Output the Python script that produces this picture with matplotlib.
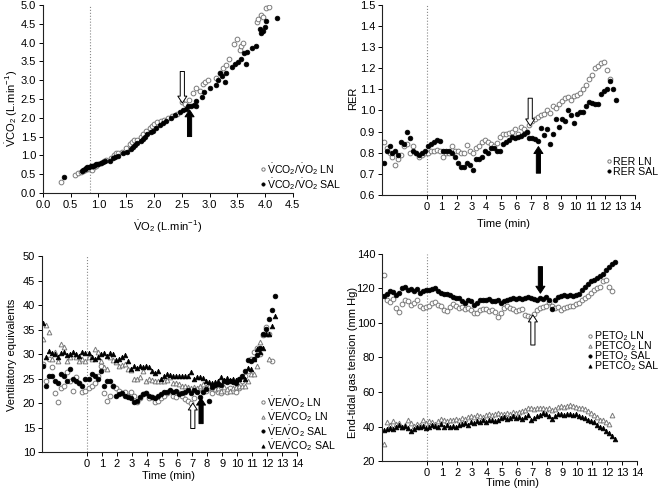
import matplotlib.pyplot as plt
from matplotlib.ticker import FormatStrFormatter

plt.rcParams['font.family'] = ['Liberation Sans', 'DejaVu Sans']
plt.rcParams['font.size'] = 8
plt.rcParams['mathtext.default'] = 'regular'

# time grid (min) shared by the time-course panels
t = [-2.9, -2.7, -2.5, -2.3, -2.1, -1.9, -1.7, -1.5, -1.3, -1.1,
     -0.9, -0.7, -0.5, -0.3, -0.1, 0.1, 0.3, 0.5, 0.7, 0.9,
     1.1, 1.3, 1.5, 1.7, 1.9, 2.1, 2.3, 2.5, 2.7, 2.9,
     3.1, 3.3, 3.5, 3.7, 3.9, 4.1, 4.3, 4.5, 4.7, 4.9,
     5.1, 5.3, 5.5, 5.7, 5.9, 6.1, 6.3, 6.5, 6.7, 6.9,
     7.1, 7.3, 7.5, 7.7, 7.9, 8.1, 8.3, 8.5, 8.7, 8.9,
     9.1, 9.3, 9.5, 9.7, 9.9, 10.1, 10.3, 10.5, 10.7, 10.9,
     11.1, 11.3, 11.5, 11.7, 11.9, 12.1, 12.3, 12.5, 12.7]

# panel A: VCO2 vs VO2
vo2_ln = [0.33, 0.57, 0.63, 0.68, 0.72, 0.76, 0.80, 0.83, 0.86, 0.88,
          0.92, 0.96, 1.00, 1.05, 1.10, 1.14, 1.22, 1.28, 1.32, 1.36,
          1.42, 1.50, 1.56, 1.60, 1.64, 1.70, 1.76, 1.80, 1.86, 1.92,
          1.96, 2.00, 2.06, 2.12, 2.18, 2.25, 2.32, 2.42, 2.51, 2.56,
          2.63, 2.70, 2.76, 2.82, 2.88, 2.92, 2.97, 3.12, 3.18, 3.24,
          3.30, 3.35, 3.44, 3.49, 3.54, 3.57, 3.60, 3.86, 3.88, 3.92,
          3.96, 4.02, 4.07]
vco2_ln = [0.28, 0.49, 0.52, 0.56, 0.58, 0.62, 0.63, 0.64, 0.66, 0.60,
           0.70, 0.73, 0.76, 0.80, 0.84, 0.88, 0.94, 1.02, 1.06, 1.05,
           1.10, 1.20, 1.30, 1.36, 1.40, 1.42, 1.50, 1.56, 1.64, 1.72,
           1.78, 1.84, 1.88, 1.92, 1.94, 2.00, 2.04, 2.10, 2.42, 2.36,
           2.46, 2.65, 2.78, 2.70, 2.90, 2.96, 3.00, 3.05, 3.18, 3.32,
           3.40, 3.56, 3.95, 4.10, 3.80, 3.90, 4.00, 4.55, 4.62, 4.72,
           4.68, 4.92, 4.95]
vo2_sal = [0.38, 0.70, 0.72, 0.75, 0.78, 0.80, 0.83, 0.86, 0.88, 0.90,
           0.93, 0.96, 1.00, 1.04, 1.08, 1.12, 1.20, 1.26, 1.30, 1.36,
           1.45, 1.52, 1.58, 1.62, 1.66, 1.70, 1.76, 1.80, 1.84, 1.88,
           1.94, 1.98, 2.04, 2.10, 2.16, 2.22, 2.30, 2.38, 2.46, 2.52,
           2.58, 2.62, 2.66, 2.72, 2.75, 2.76, 2.86, 2.90, 3.00, 3.12,
           3.15, 3.18, 3.22, 3.28, 3.30, 3.40, 3.46, 3.52, 3.56, 3.62,
           3.66, 3.68, 3.76, 3.84, 3.90, 3.93, 3.96, 3.99, 4.02, 4.22]
vco2_sal = [0.43, 0.58, 0.62, 0.65, 0.67, 0.69, 0.70, 0.71, 0.73, 0.72,
            0.74, 0.76, 0.77, 0.79, 0.82, 0.85, 0.86, 0.92, 0.96, 0.98,
            1.06, 1.10, 1.16, 1.22, 1.28, 1.32, 1.38, 1.44, 1.50, 1.56,
            1.62, 1.66, 1.74, 1.80, 1.86, 1.92, 2.00, 2.06, 2.14, 2.20,
            2.24, 2.30, 2.32, 2.34, 2.30, 2.45, 2.55, 2.68, 2.78, 2.88,
            3.00, 3.20, 3.10, 2.95, 3.18, 3.35, 3.42, 3.48, 3.56, 3.72,
            3.42, 3.76, 3.85, 3.92, 4.35, 4.25, 4.30, 4.40, 4.58, 4.65]

# panel B: RER
rer_ln = [0.85, 0.82, 0.80, 0.78, 0.74, 0.77, 0.79, 0.83, 0.84, 0.80,
          0.83, 0.80, 0.78, 0.79, 0.80, 0.80, 0.81, 0.81, 0.815, 0.81,
          0.78, 0.80, 0.80, 0.83, 0.81, 0.81, 0.80, 0.80, 0.835, 0.81,
          0.80, 0.82, 0.83, 0.85, 0.86, 0.85, 0.84, 0.83, 0.845, 0.875,
          0.89, 0.89, 0.895, 0.90, 0.91, 0.89, 0.92, 0.91, 0.90, 0.93,
          0.95, 0.96, 0.97, 0.98, 0.985, 1.00, 0.99, 1.02, 1.01, 1.03,
          1.045, 1.06, 1.065, 1.05, 1.07, 1.075, 1.085, 1.10, 1.12, 1.15,
          1.17, 1.20, 1.21, 1.225, 1.23, 1.19, 1.15]
rer_sal = [0.75, 0.81, 0.83, 0.80, 0.81, 0.79, 0.85, 0.84, 0.90, 0.87,
           0.81, 0.80, 0.79, 0.80, 0.81, 0.83, 0.84, 0.85, 0.86, 0.855,
           0.81, 0.81, 0.81, 0.80, 0.78, 0.75, 0.73, 0.73, 0.75, 0.74,
           0.72, 0.77, 0.77, 0.78, 0.81, 0.80, 0.82, 0.82, 0.81, 0.81,
           0.84, 0.85, 0.86, 0.875, 0.87, 0.875, 0.88, 0.89, 0.90, 0.87,
           0.87, 0.865, 0.855, 0.915, 0.885, 0.91, 0.84, 0.89, 0.96, 0.92,
           0.96, 0.95, 1.00, 0.98, 0.94, 0.985, 0.995, 0.995, 1.02, 1.04,
           1.035, 1.03, 1.03, 1.08, 1.09, 1.10, 1.14, 1.10, 1.05]

# panel C: ventilatory equivalents
vevo2_ln = [28.0, 24.5, 29.0, 27.3, 22.0, 20.3, 23.0, 23.5, 26.3, 24.5,
            22.5, 25.3, 24.0, 22.3, 22.5, 23.0, 23.5, 24.0, 25.5, 27.5,
            22.0, 20.5, 21.5, 23.5, 23.0, 22.5, 22.0, 22.2, 21.5, 22.3,
            21.5, 20.3, 21.0, 21.8, 22.0, 21.0, 21.3, 20.2, 20.5, 21.0,
            21.5, 22.0, 22.5, 21.5, 21.2, 22.0, 21.5, 20.8, 20.5, 20.0,
            21.0, 22.5, 23.0, 22.5, 22.5, 23.0, 22.0, 22.8, 22.3, 22.0,
            22.5, 22.2, 23.0, 22.5, 22.3, 23.0, 24.5, 25.5, 26.5, 29.0,
            30.5, 31.2, 30.0, 33.8, 35.5, 34.0, 28.5]
vevco2_ln = [33.0, 36.0, 34.5, 29.0, 30.5, 28.5, 32.0, 31.5, 28.5, 29.5,
             30.0, 29.5, 28.5, 29.0, 28.5, 29.5, 29.0, 31.0, 30.5, 28.5,
             27.3, 27.0, 29.5, 28.8, 28.3, 27.5, 27.8, 28.0, 27.0, 26.8,
             25.0, 25.0, 25.3, 26.5, 24.5, 25.0, 24.8, 24.6, 24.5, 24.5,
             24.5, 24.8, 25.3, 24.0, 24.0, 23.8, 23.5, 23.5, 23.3, 23.0,
             23.3, 23.0, 23.5, 23.8, 23.2, 23.5, 23.0, 22.8, 23.0, 22.5,
             23.2, 22.8, 22.5, 23.0, 23.2, 23.5, 23.5, 23.5, 24.5, 26.0,
             26.0, 27.5, 32.5, 34.0, 34.2, 29.0]
vevo2_sal = [27.5, 23.5, 25.5, 25.5, 24.5, 24.0, 26.0, 25.5, 24.5, 27.0,
             25.0, 24.5, 24.0, 23.5, 25.0, 25.0, 26.0, 25.5, 25.0, 26.5,
             23.5, 24.5, 24.5, 23.5, 21.5, 21.8, 22.0, 21.5, 21.3, 21.0,
             20.2, 20.5, 21.3, 21.8, 22.0, 21.5, 21.3, 21.0, 21.5, 21.8,
             22.3, 22.3, 22.6, 22.3, 22.5, 21.9, 22.0, 22.3, 22.6, 22.0,
             22.7, 22.3, 21.3, 22.3, 22.9, 20.5, 23.2, 23.6, 23.9, 23.6,
             24.5, 24.2, 24.5, 24.3, 24.0, 25.0, 25.5, 26.5, 28.8, 28.5,
             29.0, 29.8, 31.2, 34.0, 35.2, 37.2, 39.0, 41.8]
vevco2_sal = [36.4, 29.3, 30.7, 30.3, 30.0, 29.5, 30.2, 30.5, 29.8, 30.0,
              30.4, 30.0, 29.7, 30.5, 30.2, 30.3, 29.5, 29.0, 29.5, 30.0,
              30.3, 29.7, 30.2, 30.0, 28.8, 29.0, 29.5, 29.8, 28.5, 27.0,
              27.5, 27.2, 27.5, 27.3, 27.5, 27.4, 26.5, 26.2, 26.5, 25.0,
              25.5, 26.0, 25.7, 25.5, 25.5, 25.5, 25.5, 25.5, 25.6, 26.3,
              25.0, 25.3, 25.3, 25.2, 24.5, 24.3, 24.0, 24.3, 24.6, 25.3,
              24.8, 25.2, 24.7, 25.0, 24.8, 25.0, 25.5, 25.0, 27.2, 27.0,
              29.0, 31.0, 30.5, 31.3, 34.0, 34.0, 35.8, 37.8]

# panel D: end-tidal gas tensions (mm Hg)
peto2_ln = [127.5, 113.5, 112.0, 114.0, 108.5, 106.5, 111.0, 113.0, 112.5, 110.5,
            111.5, 113.0, 110.0, 108.5, 109.5, 110.0, 111.5, 112.0, 110.5, 110.0,
            107.5, 107.0, 109.0, 111.0, 110.0, 108.5, 109.0, 108.0, 108.5, 107.5,
            106.0, 105.5, 107.5, 108.0, 108.0, 107.0, 107.5, 106.5, 103.5, 106.0,
            108.5, 110.0, 108.5, 108.0, 107.0, 107.5, 108.0, 104.5, 104.0, 103.5,
            105.0, 107.5, 108.5, 109.0, 110.0, 112.0, 110.0, 108.5, 109.5, 107.5,
            108.5, 109.5, 110.0, 110.0, 111.0, 111.5, 113.0, 114.5, 115.5, 117.5,
            119.0, 120.5, 121.0, 124.0, 125.0, 121.0, 118.5]
petco2_ln = [30.0, 42.5, 41.0, 43.0, 41.5, 42.0, 40.0, 41.0, 43.5, 42.0,
             40.5, 41.5, 41.0, 43.5, 42.0, 43.0, 42.5, 41.5, 43.0, 44.5,
             44.0, 43.0, 44.0, 43.5, 44.5, 44.0, 45.0, 44.5, 45.5, 46.0,
             45.5, 46.5, 46.0, 45.5, 46.5, 47.0, 46.5, 47.5, 48.0, 47.0,
             47.5, 48.0, 47.5, 48.5, 48.0, 48.5, 49.0, 49.5, 50.5, 51.0,
             50.0, 50.5, 51.0, 50.5, 50.0, 51.0, 49.5, 50.0, 51.5, 52.0,
             51.5, 52.0, 52.5, 52.0, 51.5, 51.0, 50.5, 50.0, 49.0, 48.0,
             46.5, 45.5, 44.0, 43.5, 42.5, 41.5, 46.5]
peto2_sal = [115.5, 116.5, 118.5, 118.0, 116.0, 117.5, 120.0, 121.0, 119.0, 119.5,
             118.5, 119.5, 117.5, 118.5, 119.0, 119.0, 119.5, 120.0, 118.5, 117.5,
             116.5, 116.5, 116.0, 115.2, 114.5, 114.5, 112.5, 111.5, 113.0, 112.5,
             110.5, 111.5, 113.0, 113.5, 113.5, 114.0, 112.8, 112.5, 113.5, 111.5,
             112.5, 113.5, 114.0, 114.3, 113.8, 114.2, 113.8, 114.3, 114.8, 114.3,
             113.8, 113.5, 114.3, 113.8, 115.0, 113.0, 108.0, 113.5, 115.0, 115.8,
             116.0, 115.5, 116.0, 115.5, 116.0, 117.0, 119.0, 121.0, 122.5, 124.0,
             125.0, 126.0, 127.0, 128.5, 130.5, 132.5, 134.0, 135.0]
petco2_sal = [38.0, 38.5, 39.0, 38.5, 40.0, 41.0, 39.5, 40.5, 39.0, 37.5,
              38.5, 40.0, 39.5, 40.5, 39.0, 40.0, 41.0, 40.5, 39.5, 41.5,
              40.0, 41.0, 39.5, 40.5, 40.0, 41.0, 41.5, 42.0, 41.0, 42.5,
              42.0, 43.0, 42.5, 43.5, 42.5, 44.0, 43.5, 43.0, 44.0, 45.0,
              45.5, 44.5, 45.0, 46.0, 45.0, 45.5, 44.5, 45.5, 46.5, 44.0,
              45.0, 46.0, 46.5, 48.0, 47.5, 46.0, 44.5, 46.0, 47.5, 47.0,
              46.5, 47.5, 47.0, 46.5, 47.5, 46.0, 45.5, 45.0, 44.0, 43.0,
              42.5, 41.0, 40.0, 39.0, 37.5, 36.0, 34.5, 33.0]

# threshold arrows: (x, tail, tip, filled)
arrows_a = [(2.51, 3.23, 2.39, False), (2.64, 1.50, 2.21, True)]
arrows_b = [(6.95, 1.058, 0.927, False), (7.5, 0.703, 0.829, True)]
arrows_c = [(7.05, 14.8, 20.0, False), (7.6, 15.8, 21.0, True)]
arrows_d = [(7.05, 87.2, 104.6, False), (7.55, 132.6, 117.2, True)]

GREY = '#7a7a7a'
SUB2 = '\u2082'


def style_axes(ax):
    for s in ['top', 'right']:
        ax.spines[s].set_visible(False)
    for s in ['left', 'bottom']:
        ax.spines[s].set_linewidth(0.8)
        ax.spines[s].set_color('#222222')
    ax.tick_params(direction='out', length=3, width=0.7, pad=2, labelsize=8)


def time_axis(ax):
    ax.set_xlim(-3, 14)
    ax.set_xticks(range(0, 15))
    ax.axvline(0, color='#888888', linestyle=':', linewidth=0.8)


def open_pts(ax, x, y, label, marker='o'):
    ax.plot(x, y, linestyle='none', marker=marker, ms=3.4, mfc='white',
            mec=GREY, mew=0.7, label=label)


def filled_pts(ax, x, y, label, marker='o'):
    ax.plot(x, y, linestyle='none', marker=marker, ms=3.4, mfc='black',
            mec='black', mew=0.5, label=label)


def draw_arrows(ax, arrows):
    for x, tail, tip, filled in arrows:
        ax.annotate('', xy=(x, tip), xytext=(x, tail),
                    arrowprops=dict(arrowstyle='simple,head_length=5,head_width=6.5,tail_width=3',
                                    mutation_scale=1, shrinkA=0, shrinkB=0,
                                    fc='black' if filled else 'white',
                                    ec='black', lw=0.7))


def legend(ax, x, y, spacing=0.0):
    ax.legend(loc='upper left', bbox_to_anchor=(x, y), bbox_transform=fig.transFigure,
              frameon=False, handlelength=0.4, handletextpad=0.2, borderpad=0,
              borderaxespad=0, labelspacing=spacing, markerscale=0.7, fontsize=7.6)


fig = plt.figure(figsize=(6.61, 4.91), dpi=100)

# A
ax1 = fig.add_axes([0.065, 0.607, 0.378, 0.383])
style_axes(ax1)
ax1.axvline(0.85, color='#888888', linestyle=':', linewidth=0.8)
open_pts(ax1, vo2_ln, vco2_ln, r'$\dot{V}CO_2/\dot{V}O_2$ LN')
filled_pts(ax1, vo2_sal, vco2_sal, r'$\dot{V}CO_2/\dot{V}O_2$ SAL')
draw_arrows(ax1, arrows_a)
ax1.set_xlim(0, 4.5)
ax1.set_ylim(0, 5)
ax1.set_xticks([i * 0.5 for i in range(10)])
ax1.set_yticks([i * 0.5 for i in range(11)])
ax1.xaxis.set_major_formatter(FormatStrFormatter('%.1f'))
ax1.yaxis.set_major_formatter(FormatStrFormatter('%.1f'))
ax1.set_xlabel(r'$\dot{V}O_2$ (L.min$^{-1}$)', fontsize=8)
ax1.set_ylabel(r'$\dot{V}CO_2$ (L.min$^{-1}$)', fontsize=8)
ax1.xaxis.set_label_coords(0.5, -0.138)
ax1.yaxis.set_label_coords(-0.092, 0.45)
legend(ax1, 0.3946, 0.672, spacing=-0.12)

# B
ax2 = fig.add_axes([0.578, 0.603, 0.383, 0.387])
style_axes(ax2)
time_axis(ax2)
open_pts(ax2, t[:len(rer_ln)], rer_ln, 'RER LN')
filled_pts(ax2, t[:len(rer_sal)], rer_sal, 'RER SAL')
draw_arrows(ax2, arrows_b)
ax2.set_ylim(0.6, 1.5)
ax2.set_yticks([0.6 + i * 0.1 for i in range(10)])
ax2.yaxis.set_major_formatter(FormatStrFormatter('%.1f'))
ax2.set_xlabel('Time (min)', fontsize=8)
ax2.set_ylabel('RER', fontsize=8)
ax2.xaxis.set_label_coords(0.478, -0.126)
ax2.yaxis.set_label_coords(-0.095, 0.51)
legend(ax2, 0.918, 0.681)

# C
ax3 = fig.add_axes([0.0635, 0.0794, 0.386, 0.399])
style_axes(ax3)
time_axis(ax3)
open_pts(ax3, t[:len(vevo2_ln)], vevo2_ln, r'$\dot{V}E/\dot{V}O_2$ LN')
open_pts(ax3, t[:len(vevco2_ln)], vevco2_ln, r'$\dot{V}E/\dot{V}CO_2$ LN', marker='^')
filled_pts(ax3, t[:len(vevo2_sal)], vevo2_sal, r'$\dot{V}E/\dot{V}O_2$ SAL')
filled_pts(ax3, t[:len(vevco2_sal)], vevco2_sal, r'$\dot{V}E/\dot{V}CO_2$ SAL', marker='^')
draw_arrows(ax3, arrows_c)
ax3.set_ylim(10, 50)
ax3.set_yticks(range(10, 51, 5))
ax3.set_xlabel('Time (min)', fontsize=8)
ax3.set_ylabel('Ventilatory equivalents', fontsize=8)
ax3.xaxis.set_label_coords(0.494, -0.097)
ax3.yaxis.set_label_coords(-0.098, 0.495)
legend(ax3, 0.3946, 0.198, spacing=-0.12)

# D
ax4 = fig.add_axes([0.578, 0.061, 0.386, 0.422])
style_axes(ax4)
time_axis(ax4)
open_pts(ax4, t[:len(peto2_ln)], peto2_ln, f'PETO{SUB2} LN')
open_pts(ax4, t[:len(petco2_ln)], petco2_ln, f'PETCO{SUB2} LN', marker='^')
filled_pts(ax4, t[:len(peto2_sal)], peto2_sal, f'PETO{SUB2} SAL')
filled_pts(ax4, t[:len(petco2_sal)], petco2_sal, f'PETCO{SUB2} SAL', marker='^')
draw_arrows(ax4, arrows_d)
ax4.set_ylim(20, 140)
ax4.set_yticks(range(20, 141, 20))
ax4.set_xlabel('Time (min)', fontsize=8)
ax4.set_ylabel('End-tidal gas tension (mm Hg)', fontsize=8)
ax4.xaxis.set_label_coords(0.51, -0.082)
ax4.yaxis.set_label_coords(-0.094, 0.476)
legend(ax4, 0.890, 0.325)

fig.savefig('out.png', dpi=100)
